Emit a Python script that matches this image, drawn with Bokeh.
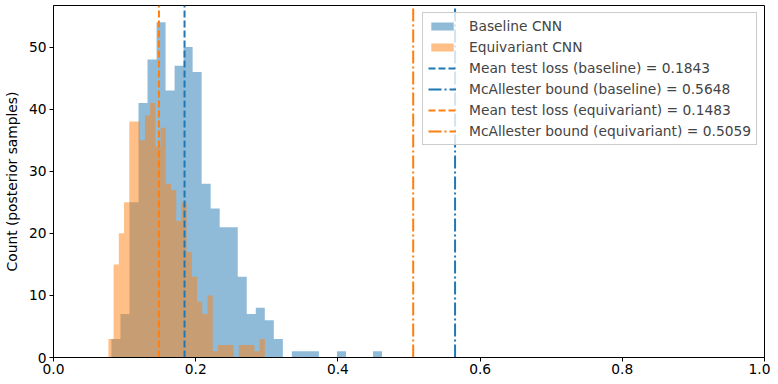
import numpy as np
from bokeh.plotting import figure
from bokeh.models import Range1d, FixedTicker, NumeralTickFormatter, Legend, LegendItem
from bokeh.embed import file_html
from bokeh.resources import INLINE

# ---- data ----
baseline_range = (0.0815, 0.4621)
baseline_counts = [3, 7, 25, 41, 48, 54, 43, 47, 50, 46, 28, 24, 21, 21, 13,
                   7, 8, 6, 3, 0, 1, 1, 1, 0, 0, 1, 0, 0, 0, 1]
equivariant_range = (0.0772, 0.2973)
equivariant_counts = [3, 15, 20, 25, 38, 38, 35, 39, 41, 34, 37, 28, 27, 22, 25,
                      17, 13, 9, 7, 10, 1, 2, 2, 2, 0, 2, 2, 2, 1, 3]
line_values = [0.1843, 0.5648, 0.1483, 0.5059]
line_labels = ["Mean test loss (baseline) = 0.1843",
               "McAllester bound (baseline) = 0.5648",
               "Mean test loss (equivariant) = 0.1483",
               "McAllester bound (equivariant) = 0.5059"]
line_colors = ["#1f77b4", "#1f77b4", "#ff7f0e", "#ff7f0e"]
line_dashes = ["7 3", "13 3 2 3", "7 3", "13 3 2 3"]
hist_labels = ["Baseline CNN", "Equivariant CNN"]
hist_colors = ["#1f77b4", "#ff7f0e"]
x_ticks = [0.0, 0.2, 0.4, 0.6, 0.8, 1.0]
y_ticks = [0, 10, 20, 30, 40, 50]
y_max = 56.7

FONT = "DejaVu Sans"
FS = "13.8px"

p = figure(width=770, height=376, output_backend="svg", toolbar_location=None,
           x_range=Range1d(0, 1), y_range=Range1d(0, y_max),
           min_border_left=52, min_border_right=6, min_border_top=5, min_border_bottom=0)
p.grid.visible = False
p.outline_line_color = "black"
p.outline_line_alpha = 1
p.background_fill_color = "white"


def step_outline(counts, rng):
    edges = np.linspace(rng[0], rng[1], len(counts) + 1)
    xs, ys = [edges[0]], [0]
    for i, h in enumerate(counts):
        xs += [edges[i], edges[i + 1]]
        ys += [h, h]
    xs.append(edges[-1])
    ys.append(0)
    return xs, ys


items = []
for counts, rng, col, lab in [(baseline_counts, baseline_range, hist_colors[0], hist_labels[0]),
                              (equivariant_counts, equivariant_range, hist_colors[1], hist_labels[1])]:
    xs, ys = step_outline(counts, rng)
    r = p.patch(x=xs, y=ys, fill_color=col, fill_alpha=0.5, line_color=None)
    items.append(LegendItem(label=lab, renderers=[r]))

for v, lab, col, dash in zip(line_values, line_labels, line_colors, line_dashes):
    r = p.line(x=[v, v], y=[0, y_max], line_color=col, line_width=2, line_dash=dash)
    items.append(LegendItem(label=lab, renderers=[r]))

legend = Legend(items=items, location="top_right", margin=7, padding=5,
                spacing=5, glyph_width=28, glyph_height=10, label_height=14,
                label_standoff=13, label_text_font=FONT, label_text_font_size=FS,
                border_line_color="#cccccc", border_line_alpha=1,
                background_fill_color="white", background_fill_alpha=0.8)
p.add_layout(legend)

for ax in (p.xaxis[0], p.yaxis[0]):
    ax.axis_line_color = "black"
    ax.major_tick_line_color = "black"
    ax.major_tick_out = 4
    ax.major_tick_in = 0
    ax.minor_tick_line_color = None
    ax.major_label_text_font = FONT
    ax.major_label_text_font_size = FS
    ax.major_label_text_color = "black"
    ax.major_label_standoff = 3
p.xaxis.major_label_standoff = 2

p.xaxis.ticker = FixedTicker(ticks=x_ticks)
p.xaxis.formatter = NumeralTickFormatter(format="0.0")
p.yaxis.ticker = FixedTicker(ticks=y_ticks)
p.yaxis.axis_label = "Count (posterior samples)"
p.yaxis.axis_label_text_font = FONT
p.yaxis.axis_label_text_font_size = FS
p.yaxis.axis_label_text_font_style = "normal"
p.yaxis.axis_label_text_color = "black"
p.yaxis.axis_label_standoff = 6

open("out.html", "w").write(file_html(p, INLINE))
